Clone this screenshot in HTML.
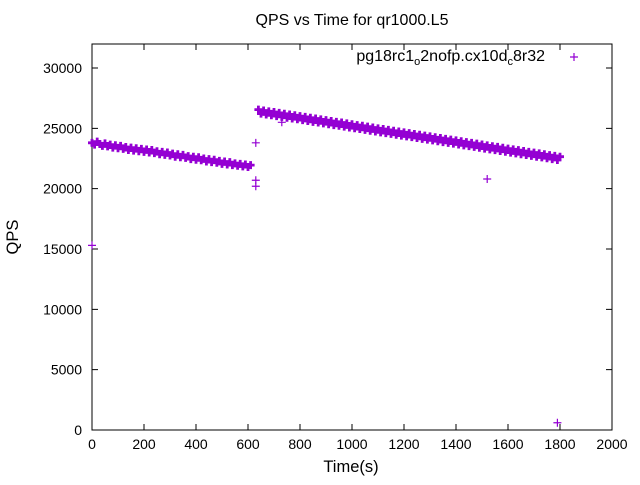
<!DOCTYPE html>
<html><head><meta charset="utf-8"><style>
body{margin:0;background:#fff}
svg text{font-family:"Liberation Sans",sans-serif;font-size:14px;fill:#000}
</style></head><body>
<svg id="chart" width="640" height="480" xmlns="http://www.w3.org/2000/svg">
<text x="352" y="25" text-anchor="middle" style="font-size:16px">QPS vs Time for qr1000.L5</text>
<rect x="92" y="44" width="520" height="386" fill="none" stroke="#000" stroke-width="1"/>
<g id="axes"></g>
<g id="marks"></g>
<text x="351" y="472" text-anchor="middle" style="font-size:16.5px">Time(s)</text>
<text x="18" y="237" text-anchor="middle" transform="rotate(-90 18 237)" style="font-size:16.5px">QPS</text>
<text x="545" y="61" text-anchor="end" style="font-size:16px">pg18rc1<tspan font-size="11" dy="4">o</tspan><tspan dy="-4">2nofp.cx10d</tspan><tspan font-size="11" dy="4">c</tspan><tspan dy="-4">8r32</tspan></text>
<path d="M570 57h8M574 53v8" stroke="#9400d3" stroke-width="1.2"/>
</svg>
<script>
const xTicks=[0,200,400,600,800,1000,1200,1400,1600,1800,2000];
const yTicks=[0,5000,10000,15000,20000,25000,30000];
const seg1Start=0, seg2Start=640, step=10;
const seg1Values=[23800,23650,23900,23700,23550,23750,23500,23650,23400,23600,23350,23550,23300,23450,23200,23400,23150,23350,23100,23300,23050,23250,23000,23200,22950,23100,22850,23050,22800,23000,22750,22900,22650,22850,22600,22800,22550,22700,22450,22650,22400,22600,22350,22500,22250,22450,22200,22400,22150,22300,22050,22250,22000,22200,21950,22100,21900,22050,21850,22000,21800,21950];
const seg2Values=[26550,26220,26480,26150,26410,26080,26350,26010,26280,25950,26210,25880,26150,25810,26080,25750,26010,25680,25950,25610,25880,25540,25810,25480,25740,25410,25680,25340,25610,25270,25540,25210,25480,25140,25410,25070,25340,25010,25270,24940,25210,24870,25140,24800,25070,24740,25000,24670,24940,24600,24870,24540,24800,24470,24740,24400,24670,24330,24600,24270,24530,24200,24470,24130,24400,24060,24330,24000,24260,23930,24200,23860,24130,23800,24060,23730,24000,23660,23930,23590,23860,23530,23790,23460,23730,23390,23660,23320,23590,23260,23520,23190,23460,23120,23390,23060,23320,22990,23260,22920,23190,22850,23120,22790,23050,22720,22990,22650,22920,22590,22850,22520,22780,22450,22720,22380,22650];
const outlierTimes=[0,630,630,630,730,1520,1790];
const outlierValues=[15300,20700,20200,23800,25500,20800,600];
const X=v=>92+v*520/2000, Y=v=>430-v*362/30000;
const NS="http://www.w3.org/2000/svg";
const axes=document.getElementById('axes'), marks=document.getElementById('marks');
function mk(tag,attrs,parent){const e=document.createElementNS(NS,tag);for(const k in attrs)e.setAttribute(k,attrs[k]);parent.appendChild(e);return e;}
xTicks.forEach(t=>{
 const x=X(t);
 const l=mk('path',{d:`M${x} 430v-6M${x} 44v6`,stroke:'#000'},axes);
 
 
 const tx=mk('text',{x:x,y:449,'text-anchor':'middle'},axes);tx.textContent=t;
 
 
});
yTicks.forEach(t=>{
 const y=Y(t);
 const l=mk('path',{d:`M92 ${y}h6M612 ${y}h-6`,stroke:'#000'},axes);
 
 
 const tx=mk('text',{x:82,y:y+5,'text-anchor':'end'},axes);tx.textContent=t;
 
 
});
function plus(t,v,w){
 const x=X(t),y=Y(v);
 const p=mk('path',{d:`M${x-4} ${y}h8M${x} ${y-4}v8`,stroke:'#9400d3','stroke-width':w},marks);
 
 
}
seg1Values.forEach((v,i)=>plus(seg1Start+i*step,v,2.8));
seg2Values.forEach((v,i)=>plus(seg2Start+i*step,v,2.8));
outlierTimes.forEach((t,i)=>plus(t,outlierValues[i],1.2));
</script>
</body></html>
